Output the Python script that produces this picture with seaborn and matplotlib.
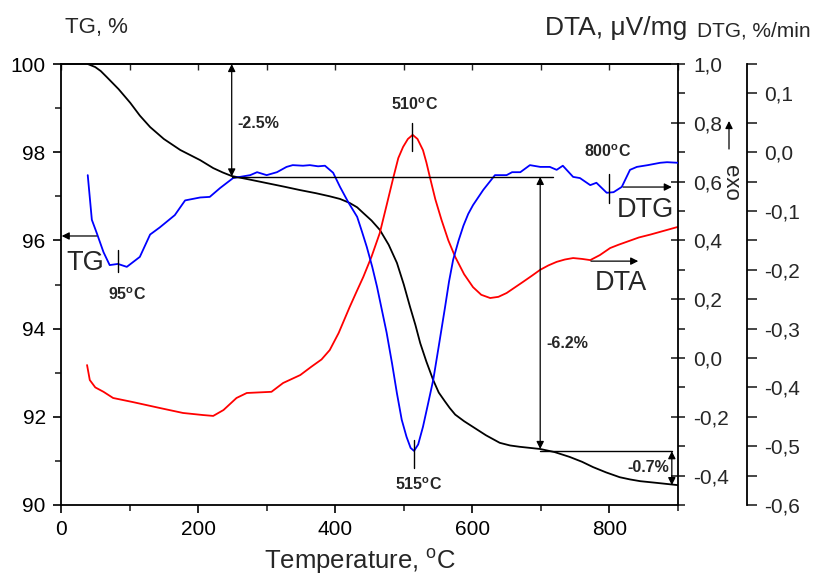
import matplotlib
matplotlib.use("Agg")
import matplotlib.pyplot as plt
import matplotlib.ticker as mticker
import seaborn as sns

# ---------------- data ----------------
temp_tg = [39, 50, 58, 67, 84, 101, 115, 130, 150, 174, 203, 222, 236, 249, 275, 300,
           325, 349, 372, 392, 407, 421, 432, 441, 453, 465, 478, 490, 500, 509, 517,
           524, 533, 543, 551, 560, 567, 575, 588, 601, 620, 640, 655, 669, 699, 720,
           742, 760, 776, 795, 815, 830, 845, 870, 900]
tg = [100.0, 99.93, 99.84, 99.7, 99.43, 99.12, 98.83, 98.57, 98.3, 98.05, 97.82, 97.64,
      97.54, 97.46, 97.38, 97.3, 97.22, 97.14, 97.07, 97.0, 96.94, 96.85, 96.75, 96.62,
      96.45, 96.24, 95.9, 95.49, 95.0, 94.5, 94.08, 93.67, 93.25, 92.83, 92.55, 92.35,
      92.2, 92.05, 91.9, 91.77, 91.58, 91.41, 91.35, 91.32, 91.27, 91.2, 91.09, 90.98,
      90.86, 90.74, 90.63, 90.58, 90.54, 90.5, 90.45]

temp_dta = [38, 42, 50, 62, 76, 105, 144, 178, 207, 222, 237, 256, 271, 307, 324, 349,
            365, 380, 392, 405, 421, 431, 441, 453, 465, 475, 485, 492, 499, 506, 513,
            520, 528, 533, 538, 546, 555, 565, 575, 588, 601, 613, 626, 638, 650, 662,
            674, 687, 699, 711, 723, 735, 747, 760, 772, 786, 801, 813, 825, 843, 860,
            880, 900]
dta = [-0.024, -0.075, -0.10, -0.115, -0.136, -0.15, -0.17, -0.187, -0.194, -0.197,
       -0.177, -0.136, -0.119, -0.115, -0.085, -0.058, -0.03, -0.005, 0.027, 0.085,
       0.173, 0.225, 0.276, 0.345, 0.425, 0.52, 0.616, 0.68, 0.718, 0.745, 0.759, 0.745,
       0.707, 0.665, 0.616, 0.54, 0.47, 0.40, 0.344, 0.285, 0.241, 0.215, 0.204, 0.208,
       0.221, 0.24, 0.259, 0.28, 0.30, 0.315, 0.327, 0.335, 0.34, 0.337, 0.333, 0.35,
       0.374, 0.385, 0.395, 0.41, 0.42, 0.433, 0.446]

temp_dtg = [39, 45, 52, 62, 71, 83, 96, 115, 130, 144, 166, 181, 203, 217, 232, 251,
            276, 286, 300, 315, 329, 338, 353, 363, 375, 385, 397, 407, 419, 432, 439,
            446, 454, 461, 468, 475, 483, 490, 497, 504, 510, 515, 521, 528, 535, 543,
            551, 560, 566, 572, 580, 587, 594, 601, 616, 633, 650, 658, 670, 684, 699,
            713, 723, 732, 747, 757, 772, 781, 796, 806, 818, 830, 840, 856, 874, 884,
            900]
dtg = [-0.039, -0.115, -0.137, -0.17, -0.192, -0.19, -0.195, -0.178, -0.14, -0.128,
       -0.107, -0.082, -0.077, -0.076, -0.061, -0.044, -0.039, -0.034, -0.039, -0.034,
       -0.025, -0.022, -0.023, -0.022, -0.024, -0.023, -0.035, -0.059, -0.085, -0.11,
       -0.135, -0.161, -0.195, -0.229, -0.268, -0.307, -0.36, -0.41, -0.455, -0.484,
       -0.503, -0.508, -0.497, -0.467, -0.43, -0.387, -0.33, -0.265, -0.22, -0.183,
       -0.15, -0.125, -0.105, -0.09, -0.064, -0.039, -0.039, -0.034, -0.034, -0.022,
       -0.025, -0.025, -0.03, -0.023, -0.042, -0.044, -0.056, -0.052, -0.069, -0.068,
       -0.059, -0.03, -0.025, -0.022, -0.018, -0.017, -0.018]

x_ticks = [0, 200, 400, 600, 800]
tg_ticks = [90, 92, 94, 96, 98, 100]
dta_ticks = [-0.4, -0.2, 0.0, 0.2, 0.4, 0.6, 0.8, 1.0]
dtg_ticks = [-0.6, -0.5, -0.4, -0.3, -0.2, -0.1, 0.0, 0.1]

# ---------------- style ----------------
sns.set_style("ticks")
plt.rcParams['font.family'] = ['Liberation Sans', 'DejaVu Sans']
plt.rcParams['mathtext.fontset'] = 'custom'
plt.rcParams['mathtext.rm'] = 'Liberation Sans'
plt.rcParams['mathtext.bf'] = 'Liberation Sans:bold'
plt.rcParams['mathtext.it'] = 'Liberation Sans:italic'

W, H = 819, 579
fig = plt.figure(figsize=(W / 100, H / 100), dpi=100)
fig.patch.set_facecolor('white')

def fpx(x, y):
    return (x / W, 1 - y / H)

ax = fig.add_axes([61 / W, 1 - 505 / H, (678 - 61) / W, (505 - 64) / H])
ax2 = ax.twinx()
ax3 = ax.twinx()

LW = 1.3
sns.lineplot(x=temp_tg, y=tg, ax=ax, color='black', lw=LW)
sns.lineplot(x=temp_dta, y=dta, ax=ax2, color='#ff0000', lw=LW)
sns.lineplot(x=temp_dtg, y=dtg, ax=ax3, color='#0000ff', lw=LW)

def comma(v, pos=None):
    if abs(v) < 1e-9:
        v = 0.0
    return f"{v:.1f}".replace('.', ',')

# main axis
ax.set_xlim(0, 900)
ax.set_ylim(90, 100)
ax.set_xticks(x_ticks)
ax.set_yticks(tg_ticks)
ax.xaxis.set_minor_locator(mticker.MultipleLocator(100))
ax.yaxis.set_minor_locator(mticker.MultipleLocator(1))
ax.tick_params(axis='both', which='major', direction='out', length=6, width=1.2,
               labelsize=15, pad=5, colors='black')
ax.tick_params(axis='both', which='minor', direction='out', length=4, width=1.2)
ax.set_xlabel('')
ax.set_ylabel('')
for s in ['left', 'bottom', 'top']:
    ax.spines[s].set_linewidth(1.3)
    ax.spines[s].set_color('black')
ax.spines['right'].set_visible(False)
sec = ax.secondary_xaxis('top')
sec.set_xticks(list(range(0, 1000, 100)))
sec.tick_params(direction='in', length=4, width=1.0, labeltop=False)
sec.spines['top'].set_linewidth(1.3)

# DTA axis
ax2.set_ylim(-0.5, 1.0)
ax2.set_yticks(dta_ticks)
ax2.yaxis.set_minor_locator(mticker.MultipleLocator(0.1))
ax2.yaxis.set_major_formatter(mticker.FuncFormatter(comma))
ax2.tick_params(axis='y', which='major', direction='inout', length=10, width=1.2,
                labelsize=15, pad=6)
ax2.tick_params(axis='y', which='minor', direction='out', length=5, width=1.2)
ax2.set_ylabel('')
for s in ['left', 'bottom', 'top']:
    ax2.spines[s].set_visible(False)
ax2.spines['right'].set_linewidth(1.3)
ax2.spines['right'].set_color('black')

# DTG axis
ax3.spines['right'].set_position(('axes', (747 - 61) / (678 - 61)))
ax3.set_ylim(-0.6, 0.15)
ax3.set_yticks(dtg_ticks)
ax3.yaxis.set_minor_locator(mticker.MultipleLocator(0.05))
ax3.yaxis.set_major_formatter(mticker.FuncFormatter(comma))
ax3.tick_params(axis='y', which='major', direction='out', length=7, width=1.2,
                labelsize=15, pad=5)
ax3.tick_params(axis='y', which='minor', direction='out', length=7, width=1.2)
ax3.set_ylabel('')
for s in ['left', 'bottom', 'top']:
    ax3.spines[s].set_visible(False)
ax3.spines['right'].set_linewidth(1.3)
ax3.spines['right'].set_color('black')

# ---------------- annotations (in TG coordinates) ----------------
tr = ax.transData
ann_kw = dict(xycoords=tr, textcoords=tr, annotation_clip=False)
dbl = dict(arrowstyle='<|-|>', color='black', lw=0.9, mutation_scale=11,
           shrinkA=0, shrinkB=0)
sgl = dict(arrowstyle='-|>', color='black', lw=0.9, mutation_scale=11,
           shrinkA=0, shrinkB=0)

def line(x0, y0, x1, y1, lw=1.0):
    ax3.plot([x0, x1], [y0, y1], color='black', lw=lw, transform=tr, clip_on=False)

# horizontal reference lines
line(249, 97.44, 718, 97.44)
line(699, 91.22, 891, 91.22)
# double arrows
ax3.annotate('', xy=(249, 97.45), xytext=(249, 100.0), arrowprops=dbl, **ann_kw)
ax3.annotate('', xy=(699, 91.27), xytext=(699, 97.44), arrowprops=dbl, **ann_kw)
ax3.annotate('', xy=(891, 90.45), xytext=(891, 91.22), arrowprops=dbl, **ann_kw)
# pointer arrows
ax3.annotate('', xy=(1, 96.1), xytext=(52, 96.1), arrowprops=sgl, **ann_kw)
ax3.annotate('', xy=(891, 97.21), xytext=(820, 97.21), arrowprops=sgl, **ann_kw)
ax3.annotate('', xy=(842, 95.53), xytext=(773, 95.53), arrowprops=sgl, **ann_kw)

# peak marker ticks
line(83, 95.78, 83, 95.28)
line(512, 98.66, 512, 98.03)
line(799, 97.51, 799, 96.85)
line(515, 91.47, 515, 90.84)

bold = dict(fontsize=11.5, fontweight='bold', ha='center', va='center', transform=tr)
ax3.text(96, 94.76, r'95$^{\mathbf{o}}$C', **bold)
ax3.text(516, 99.07, r'510$^{\mathbf{o}}$C', **bold)
ax3.text(798, 98.0, r'800$^{\mathbf{o}}$C', **bold)
ax3.text(521, 90.45, r'515$^{\mathbf{o}}$C', **bold)
ax3.text(288, 98.66, '-2.5%', **bold)
ax3.text(738, 93.67, '-6.2%', **bold)
ax3.text(856, 90.84, '-0.7%', **bold)

big = dict(fontsize=19.5, ha='center', va='center', transform=tr)
ax3.text(36, 95.49, 'TG', **big)
ax3.text(852, 96.69, 'DTG', **big)
ax3.text(817, 95.03, 'DTA', **big)

# axis titles
fig.text(*fpx(65, 28), 'TG, %', fontsize=16, ha='left', va='center')
fig.text(*fpx(545, 28), 'DTA, \u03bcV/mg', fontsize=19, ha='left', va='center')
fig.text(*fpx(697, 31), 'DTG, %/min', fontsize=15, ha='left', va='center')
fig.text(*fpx(360, 562), r'Temperature, $^{\mathrm{o}}$C', fontsize=18.5,
         ha='center', va='center')

# exo arrow and label
fig.text(*fpx(730, 183), 'exo', fontsize=16, rotation=270, ha='center', va='center')
ax3.annotate('', xy=fpx(729, 121), xytext=fpx(729, 149), xycoords='figure fraction',
             textcoords='figure fraction', arrowprops=sgl, annotation_clip=False)

fig.savefig('out.png', dpi=100, facecolor='white')
